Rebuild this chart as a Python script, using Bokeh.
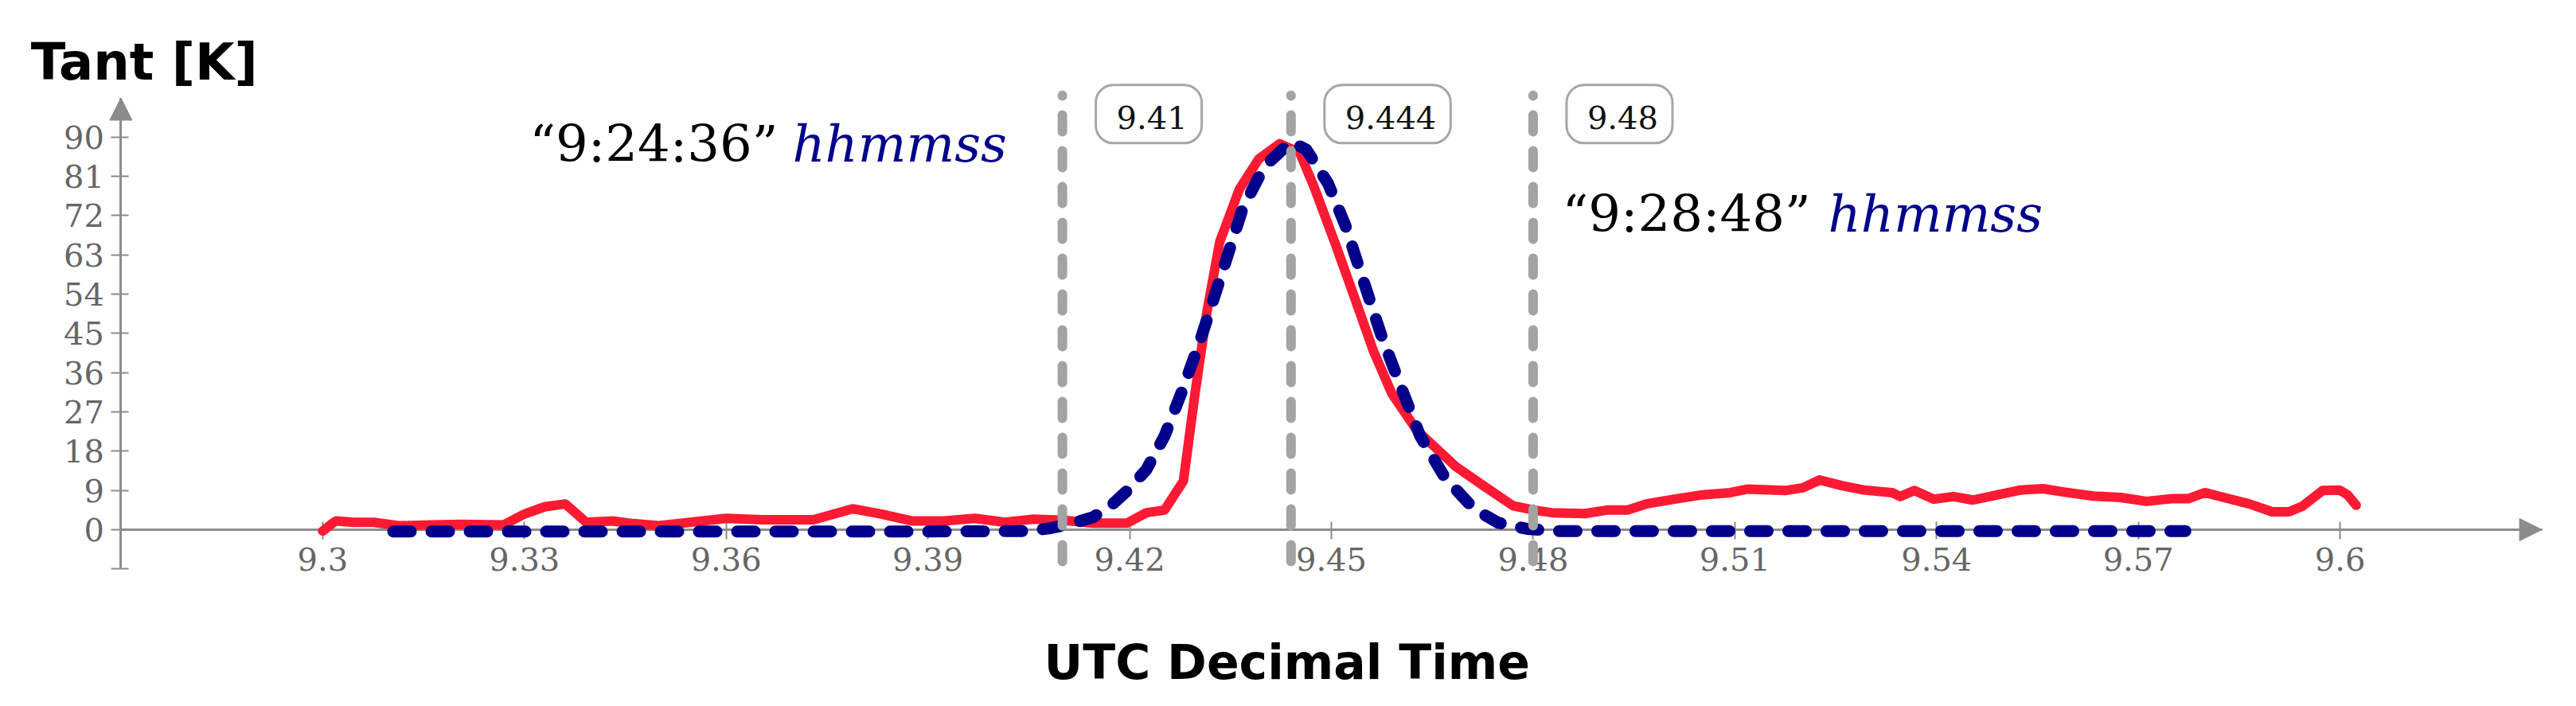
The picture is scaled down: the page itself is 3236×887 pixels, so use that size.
from bokeh.plotting import figure
from bokeh.models import Range1d, FixedTicker, Arrow, NormalHead, LinearAxis
from bokeh.core.properties import value
from bokeh.embed import file_html
from bokeh.resources import INLINE

# ---------------- data ----------------
red_x = [9.3000, 9.3015, 9.3020, 9.3046, 9.3076, 9.3115, 9.3161, 9.3207, 9.3269,
         9.3300, 9.3330, 9.3361, 9.3392, 9.3431, 9.3462, 9.3500, 9.3546, 9.3600,
         9.3654, 9.3730, 9.3788, 9.3831, 9.3877, 9.3924, 9.3970, 9.4015, 9.4055,
         9.4100, 9.4146, 9.4196, 9.4225, 9.4252, 9.4280, 9.4297, 9.4315, 9.4334,
         9.4363, 9.4392, 9.4423, 9.4453, 9.4474, 9.4505, 9.4532, 9.4563, 9.4590,
         9.4627, 9.4685, 9.4727, 9.4770, 9.4801, 9.4828, 9.4877, 9.4910, 9.4940,
         9.4968, 9.5010, 9.5052, 9.5093, 9.5118, 9.5176, 9.5201, 9.5226, 9.5259,
         9.5292, 9.5334, 9.5346, 9.5367, 9.5396, 9.5425, 9.5454, 9.5491, 9.5525,
         9.5558, 9.5591, 9.5633, 9.5674, 9.5712, 9.5749, 9.5774, 9.5799, 9.5832,
         9.5865, 9.5899, 9.5924, 9.5944, 9.5974, 9.5999, 9.6011, 9.6024]
red_y = [-0.3, 1.5, 2.0, 1.7, 1.7, 0.9, 1.1, 1.25, 1.1,
         3.6, 5.25, 5.9, 1.7, 2.0, 1.4, 0.9, 1.7, 2.6,
         2.3, 2.3, 4.8, 3.6, 2.0, 2.0, 2.6, 1.7, 2.4,
         2.2, 1.5, 1.5, 3.9, 4.5, 11.2, 31.0, 50.0, 66.0,
         78.0, 85.0, 88.5, 86.4, 78.7, 65.9, 54.3, 40.8, 31.2,
         22.8, 14.5, 10.0, 5.5, 4.5, 3.9, 3.7, 4.5, 4.5,
         5.9, 7.0, 8.0, 8.5, 9.3, 9.0, 9.6, 11.4, 10.1,
         9.1, 8.5, 7.6, 9.0, 7.0, 7.6, 6.8, 8.0, 9.1,
         9.4, 8.6, 7.7, 7.4, 6.5, 7.1, 7.1, 8.5, 7.2,
         5.9, 4.1, 4.1, 5.4, 9.0, 9.1, 8.0, 5.6]

blue_x = [9.3105, 9.3300, 9.3500, 9.3700, 9.3900, 9.4050, 9.4080, 9.4110, 9.4146,
          9.4172, 9.4199, 9.4225, 9.4252, 9.4278, 9.4305, 9.4336, 9.4368, 9.4400,
          9.4440, 9.4463, 9.4495, 9.4521, 9.4548, 9.4574, 9.4601, 9.4632, 9.4669,
          9.4712, 9.4748, 9.4791, 9.4830, 9.5000, 9.5200, 9.5400, 9.5600, 9.5770]
blue_y = [-0.4, -0.4, -0.4, -0.4, -0.4, -0.3, 0.3, 1.2, 2.9,
          5.5, 9.3, 13.8, 21.5, 31.8, 43.4, 58.2, 73.6, 83.2,
          89.0, 87.1, 79.4, 69.7, 56.9, 44.7, 33.7, 21.5, 11.9,
          4.8, 1.6, 0.2, -0.3, -0.3, -0.3, -0.3, -0.3, -0.3]

marker_x = [9.41, 9.444, 9.48]
marker_labels = ["9.41", "9.444", "9.48"]

x_ticks = [9.3, 9.33, 9.36, 9.39, 9.42, 9.45, 9.48, 9.51, 9.54, 9.57, 9.6]
x_tick_labels = ["9.3", "9.33", "9.36", "9.39", "9.42", "9.45", "9.48",
                 "9.51", "9.54", "9.57", "9.6"]
y_ticks = [0, 9, 18, 27, 36, 45, 54, 63, 72, 81, 90]
y_tick_labels = ["0", "9", "18", "27", "36", "45", "54", "63", "72", "81", "90"]

time_labels = ["\u201c9:24:36\u201d", "\u201c9:28:48\u201d"]
unit_label = "hhmmss"
y_title = "Tant [K]"
x_title = "UTC Decimal Time"

# ---------------- styles ----------------
AX = "#8c8c8c"
RED = "#ff1a33"
BLUE = "#00008b"
VGRAY = "#a3a3a3"
SERIF = "DejaVu Serif"
SANS = "DejaVu Sans"

p = figure(width=3220, height=871, output_backend="svg", toolbar_location=None,
           x_range=Range1d(9.2535, 9.6323), y_range=Range1d(-37.59, 119.53),
           x_axis_type=None, y_axis_type=None,
           min_border_left=12, min_border_right=8, min_border_top=10, min_border_bottom=0)
p.outline_line_color = None
p.background_fill_color = "white"
p.border_fill_color = "white"

def style_axis(ax):
    ax.axis_line_color = AX
    ax.axis_line_width = 3
    ax.major_tick_line_color = AX
    ax.major_tick_line_width = 2
    ax.major_tick_in = 10
    ax.major_tick_out = 12
    ax.minor_tick_line_color = None
    ax.major_label_text_font = SERIF
    ax.major_label_text_font_size = "40px"
    ax.major_label_text_color = "#666666"

xaxis = LinearAxis(fixed_location=0, bounds=(9.27, 9.63),
                   ticker=FixedTicker(ticks=x_ticks),
                   major_label_overrides=dict(zip(x_ticks, x_tick_labels)))
style_axis(xaxis)
xaxis.major_label_standoff = 10
p.add_layout(xaxis, "below")

yoverrides = dict(zip(y_ticks, y_tick_labels))
yoverrides[-9] = ""
yaxis = LinearAxis(fixed_location=9.27, bounds=(-9, 99),
                   ticker=FixedTicker(ticks=[-9] + y_ticks),
                   major_label_overrides=yoverrides)
style_axis(yaxis)
yaxis.major_label_standoff = 9
p.add_layout(yaxis, "left")

p.add_layout(Arrow(end=NormalHead(size=28, fill_color=AX, line_color=AX),
                   x_start=9.62, y_start=0, x_end=9.63, y_end=0,
                   line_color=AX, line_width=3))
p.add_layout(Arrow(end=NormalHead(size=28, fill_color=AX, line_color=AX),
                   x_start=9.27, y_start=95, x_end=9.27, y_end=99,
                   line_color=AX, line_width=3))

# curves (drawn above the axis line)
r_red = p.line(red_x, red_y, line_color=RED, line_width=12, line_join="round",
               line_cap="round", level="overlay")
r_blue = p.line(blue_x, blue_y, line_color=BLUE, line_width=15, line_dash="22 26",
                line_cap="round", line_join="round", level="overlay")

# vertical markers
p.segment(x0=marker_x, y0=[-7.3] * 3, x1=marker_x, y1=[99.6] * 3,
          line_color=VGRAY, line_width=12, line_dash="21 24", line_cap="round",
          level="overlay")

p.text(x=marker_x, y=[95.3] * 3, text=marker_labels, x_offset=42,
       text_align="left", text_baseline="middle", text_font=value(SERIF),
       text_font_size="40px", text_color="#111111",
       background_fill_color="white", border_line_color="#a6a6a6",
       border_line_width=3, padding=(26, 18, 26, 18), border_radius=22,
       level="overlay")

# time annotations
p.text(x=[9.33078, 9.48433], y=[88.5, 72.3], text=time_labels,
       text_align="left", text_baseline="alphabetic", text_font=value(SERIF),
       text_font_size="64px", text_color="black")
p.text(x=[9.36985, 9.52387], y=[88.5, 72.3], text=[unit_label, unit_label],
       text_align="left", text_baseline="alphabetic", text_font=value(SERIF),
       text_font_style="italic", text_font_size="64px", text_color=BLUE)

# titles
p.text(x=[9.2566], y=[107.3], text=[y_title], text_align="left",
       text_baseline="alphabetic", text_font=value(SANS), text_font_style="bold",
       text_font_size="64px", text_color="black")
p.text(x=[9.4434], y=[-30.3], text=[x_title], text_align="center",
       text_baseline="alphabetic", text_font=value(SANS), text_font_style="bold",
       text_font_size="60px", text_color="black")

open("out.html", "w").write(file_html(p, INLINE))
